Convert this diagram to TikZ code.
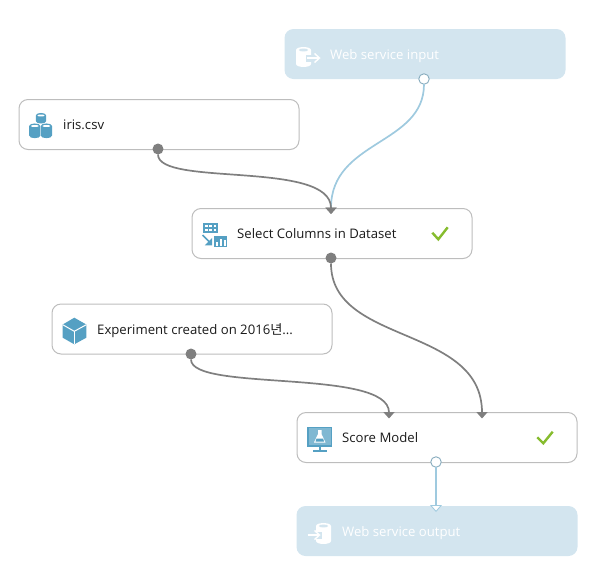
\documentclass[tikz,border=0pt]{standalone}
\usepackage{fontspec}
\setmainfont{Open Sans}
\newfontfamily\cjkfont{Noto Sans CJK KR}
\usetikzlibrary{arrows.meta}
\definecolor{edgegray}{HTML}{7F7F7F}
\definecolor{edgeblue}{HTML}{9FCADF}
\definecolor{boxline}{HTML}{BDBDBD}
\definecolor{wsfill}{HTML}{D3E5EF}
\definecolor{iconblue}{HTML}{55A0C3}
\definecolor{checkgreen}{HTML}{86BC2E}
\definecolor{txt}{HTML}{1A1A1A}
\newcommand{\cylshape}[6]{% cx, top, rx, bottom, ry, colour
  \fill[#6] ({#1-#3},#2) -- ({#1-#3},#4) .. controls ({#1-#3},{#4+#5*1.3}) and ({#1+#3},{#4+#5*1.3}) .. ({#1+#3},#4) -- ({#1+#3},#2) .. controls ({#1+#3},{#2-#5*1.3}) and ({#1-#3},{#2-#5*1.3}) .. cycle;}
\newcommand{\cyltop}[5]{% cx, top, rx, ry, colour
  \fill[#5] ({#1-#3},#2) .. controls ({#1-#3},{#2-#4*1.3}) and ({#1+#3},{#2-#4*1.3}) .. ({#1+#3},#2) .. controls ({#1+#3},{#2+#4*1.3}) and ({#1-#3},{#2+#4*1.3}) .. cycle;}
\tikzset{
  x=1pt,y=-1pt,
  modbox/.style={draw=boxline,line width=1pt,fill=white,rounded corners=9pt,minimum width=280pt,minimum height=50pt,inner sep=0pt,outer sep=0pt},
  wsbox/.style={fill=wsfill,rounded corners=9pt,minimum width=281pt,minimum height=50pt,inner sep=0pt,outer sep=0pt},
  modlabel/.style={anchor=base west,inner sep=0pt,text=txt,font=\fontsize{13.15pt}{15pt}\selectfont},
  wslabel/.style={anchor=base west,inner sep=0pt,text=white,font=\fontsize{13.15pt}{15pt}\selectfont},
  outgray/.style={circle,fill=edgegray,minimum size=11pt,inner sep=0pt,outer sep=0pt},
  outblue/.style={circle,draw=edgeblue!85!black,line width=.9pt,fill=white,minimum size=10.5pt,inner sep=0pt,outer sep=0pt},
  graylink/.style={draw=edgegray,line width=1.7pt,-{Triangle[length=6.5pt,width=11pt,color=edgegray]}},
  bluelink/.style={draw=edgeblue,line width=1.7pt,-{Triangle[length=7pt,width=12pt,color=edgeblue,fill=white,line width=.8pt]}},
  bluelinkb/.style={draw=edgeblue,line width=1.7pt,-{Triangle[length=6.5pt,width=11pt,color=edgegray]}},
  tick/.style={draw=checkgreen,line width=2.4pt},
}
\begin{document}
\begin{tikzpicture}
\useasboundingbox (0,0) rectangle (594,574);
% boxes
\node[wsbox]  (wsin)  at (425,54) {};
\node[modbox] (iris)  at (159,124.5) {};
\node[modbox] (sel)   at (332,233.5) {};
\node[modbox] (exper) at (192,329) {};
\node[modbox] (score) at (437,437.5) {};
\node[wsbox]  (wsout) at (437,531) {};
% labels
\node[wslabel]  (lwsin)  at (330,59)  {Web service input};
\node[modlabel] (liris)  at (63,129)  {iris.csv};
\node[modlabel] (lsel)   at (237,238) {Select Columns in Dataset};
\node[modlabel] (lexper) at (97,334)    {Experiment created on 2016{\cjkfont 년}...};
\node[modlabel] (lscore) at (342,442)   {Score Model};
\node[wslabel]  (lwsout) at (342,536) {Web service output};
% ports
\node[outblue] (pwsin)  at (424,79) {};
\node[outgray] (piris)  at (158,149) {};
\node[outgray] (psel)   at (331,258) {};
\node[outgray] (pexper) at (191,354) {};
\node[outblue] (pscore) at (436,462) {};
\coordinate (inselect) at (331,214);
\coordinate (inleft)   at (389,418.5);
\coordinate (inright)  at (482,418.5);
\coordinate (inout)    at (436,512);
% connectors
\draw[bluelinkb] (pwsin.south) .. controls (424,145) and (331,140) .. (inselect);
\draw[graylink] (piris.south) .. controls (158,187) and (331,160) .. (inselect);
\draw[graylink] (psel.south) .. controls (331,345) and (482,325) .. (inright);
\draw[graylink] (pexper.south) .. controls (191,392) and (389,368) .. (inleft);
\draw[bluelink] (pscore.south) -- (inout);
% icon: web service input
\cylshape{303.5}{50}{7.5}{64}{3}{white}
\cyltop{303.5}{50}{4.6}{1.5}{wsfill}
\fill[wsfill] (306,54.5) rectangle (313,61.5);
\draw[white,line width=1.4pt] (307,58) -- (318,58);
\draw[white,line width=1.4pt] (314.5,53.5) -- (319.5,58) -- (314.5,62.5);
% icon: web service output
\cylshape{323.5}{526}{7.5}{541}{3}{white}
\cyltop{323.5}{526}{4.6}{1.5}{wsfill}
\fill[wsfill] (315,531.5) rectangle (322,538.5);
\draw[white,line width=1.4pt] (307.5,535) -- (319,535);
\draw[white,line width=1.4pt] (314.5,530.5) -- (319.5,535) -- (314.5,539.5);
% icon: iris datasets
\cylshape{41}{115.5}{5.2}{121}{2.6}{iconblue}
\cyltop{41}{115.5}{3.6}{1}{white}
\cylshape{34.8}{126}{5.6}{135.6}{2.6}{iconblue}
\cylshape{46.4}{126}{5.6}{135.6}{2.6}{iconblue}
\cyltop{34.8}{126}{4}{1}{white}
\cyltop{46.4}{126}{4}{1}{white}
% icon: select columns
\fill[iconblue] (203.3,223.3) rectangle (217.7,232.7);
\foreach \xx in {205,209.3,213.6}\foreach \yy in {224.8,228.6}
  \fill[white] (\xx,\yy) rectangle (\xx+2.6,\yy+2.4);
\fill[iconblue] (213.5,236) rectangle (227.3,246.7);
\fill[white] (216,241.5) rectangle (218,245.5);
\fill[white] (219.8,238.5) rectangle (221.8,245.5);
\fill[white] (223.6,240) rectangle (225.6,245.5);
\draw[iconblue,line width=1.5pt] (202.5,235) -- (210,242.5);
\fill[iconblue] (204.8,245.4) -- (212.2,245.4) -- (212.2,238) -- cycle;
% icon: cube
\fill[iconblue] (74.3,317.7) -- (86.3,324.5) -- (86.3,337.7) -- (74.3,344.3) -- (62.7,337.7) -- (62.7,324.5) -- cycle;
\draw[white,line width=1pt] (62.7,324.7) -- (74.3,331.3) -- (86.3,324.7);
\draw[white,line width=1pt] (74.3,331.3) -- (74.3,344.3);
% icon: score
\draw[iconblue,line width=1.5pt,fill=iconblue!75] (308,427.4) rectangle (331.3,445.9);
\fill[iconblue] (318.6,446) rectangle (320.8,450);
\fill[iconblue] (312.7,450) rectangle (327.3,451.7);
\fill[white] (318,430) -- (321.5,430) -- (321.5,434) -- (325.5,442.5) -- (314,442.5) -- (318,434) -- cycle;
\fill[iconblue] (316.5,438.5) -- (323,438.5) -- (324,441.5) -- (315.5,441.5) -- cycle;
% check marks
\draw[tick] (432.3,232.7) -- (438.3,239.3) -- (447.7,227.3);
\draw[tick] (537.3,437.3) -- (543.3,443.3) -- (552.7,431.7);
\end{tikzpicture}
\end{document}
